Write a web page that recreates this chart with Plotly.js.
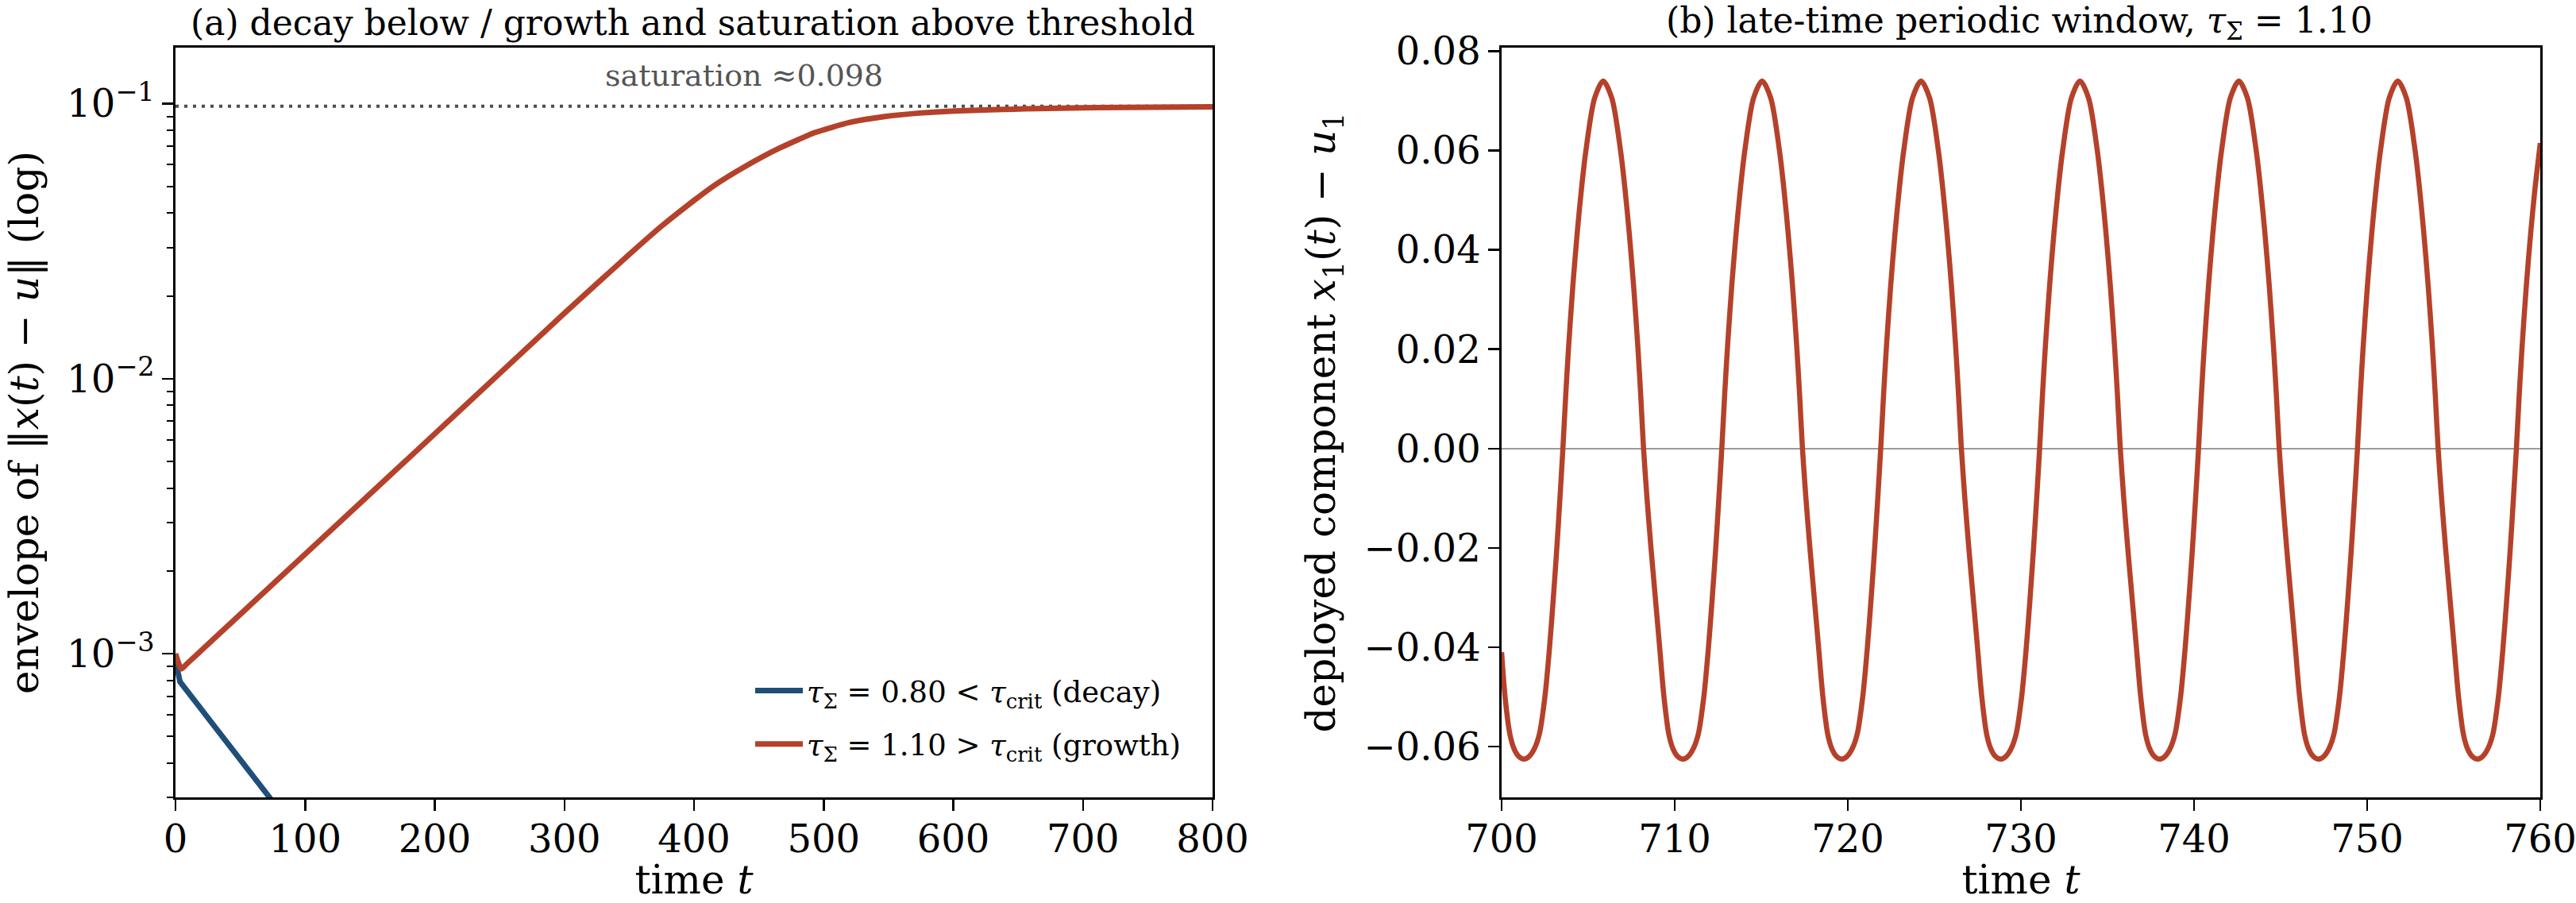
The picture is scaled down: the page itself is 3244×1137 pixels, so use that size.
<!DOCTYPE html>
<html>
<head>
<meta charset="utf-8">
<script src="https://cdn.plot.ly/plotly-3.0.1.min.js"></script>
<style>
  html, body { margin: 0; padding: 0; background: #ffffff; }
  #chart { width: 3244px; height: 1137px; }
</style>
</head>
<body>
<div id="chart"></div>
<script>
// ---------------- data ----------------
// Panel (a): envelope of ||x(t) - u|| (log scale)
const tDecay = [0, 3.5, 72.5, 100];
const envDecay = [0.00094, 0.00079, 0.00030, 0.000205];

const tGrowth = [0, 4.5, 9, 100, 200, 300, 350, 375, 400, 416, 439, 466, 493, 520, 547, 574, 601, 655, 709, 800];
const envGrowth = [0.00100, 0.00088, 0.00092, 0.0023, 0.0063, 0.0173, 0.0283, 0.0359, 0.0445, 0.0506, 0.0590,
                   0.0690, 0.0785, 0.0855, 0.0898, 0.0925, 0.0942, 0.0958, 0.0968, 0.0975];

const saturationLevel = 0.098;
const saturationSpan = [0, 800];

// Panel (b): late-time window of the deployed component x1(t) - u1, tau = 1.10
const tWindow = [
  700.00, 700.20, 700.48, 700.73, 701.00,
  701.28, 701.58, 701.88, 702.18, 702.50, 702.77, 702.99, 703.19, 703.37, 703.54, 703.70, 703.87, 704.12, 704.37, 704.62, 704.87, 705.37,
  705.87, 706.37, 706.87, 707.12, 707.37, 707.62, 707.87, 708.04, 708.20, 708.40, 708.63, 708.88, 709.13, 709.38, 709.66, 709.91, 710.18,
  710.46, 710.76, 711.06, 711.36, 711.68, 711.95, 712.17, 712.37, 712.55, 712.72, 712.88, 713.05, 713.30, 713.55, 713.80, 714.05, 714.55,
  715.05, 715.55, 716.05, 716.30, 716.55, 716.80, 717.05, 717.22, 717.38, 717.58, 717.81, 718.06, 718.31, 718.56, 718.84, 719.09, 719.36,
  719.64, 719.94, 720.24, 720.54, 720.86, 721.13, 721.35, 721.55, 721.73, 721.90, 722.06, 722.23, 722.48, 722.73, 722.98, 723.23, 723.73,
  724.23, 724.73, 725.23, 725.48, 725.73, 725.98, 726.23, 726.40, 726.56, 726.76, 726.99, 727.24, 727.49, 727.74, 728.02, 728.27, 728.54,
  728.82, 729.12, 729.42, 729.72, 730.04, 730.31, 730.53, 730.73, 730.91, 731.08, 731.24, 731.41, 731.66, 731.91, 732.16, 732.41, 732.91,
  733.41, 733.91, 734.41, 734.66, 734.91, 735.16, 735.41, 735.58, 735.74, 735.94, 736.17, 736.42, 736.67, 736.92, 737.20, 737.45, 737.72,
  738.00, 738.30, 738.60, 738.90, 739.22, 739.49, 739.71, 739.91, 740.09, 740.26, 740.42, 740.59, 740.84, 741.09, 741.34, 741.59, 742.09,
  742.59, 743.09, 743.59, 743.84, 744.09, 744.34, 744.59, 744.76, 744.92, 745.12, 745.35, 745.60, 745.85, 746.10, 746.38, 746.63, 746.90,
  747.18, 747.48, 747.78, 748.08, 748.40, 748.67, 748.89, 749.09, 749.27, 749.44, 749.60, 749.77, 750.02, 750.27, 750.52, 750.77, 751.27,
  751.77, 752.27, 752.77, 753.02, 753.27, 753.52, 753.77, 753.94, 754.10, 754.30, 754.53, 754.78, 755.03, 755.28, 755.56, 755.81, 756.08,
  756.36, 756.66, 756.96, 757.26, 757.58, 757.85, 758.07, 758.27, 758.45, 758.62, 758.78, 758.95, 759.20, 759.45, 759.70, 759.95, 760.00
];
const x1Window = [
  -0.041, -0.050, -0.0575, -0.0605, -0.062,
  -0.0625, -0.062, -0.0605, -0.0575, -0.050, -0.040, -0.030, -0.020, -0.010, 0.000, 0.0105, 0.0205, 0.033, 0.0435, 0.0525, 0.060, 0.0705,
  0.074, 0.0705, 0.060, 0.0525, 0.0435, 0.033, 0.0205, 0.0105, 0.000, -0.010, -0.020, -0.030, -0.040, -0.050, -0.0575, -0.0605, -0.062,
  -0.0625, -0.062, -0.0605, -0.0575, -0.050, -0.040, -0.030, -0.020, -0.010, 0.000, 0.0105, 0.0205, 0.033, 0.0435, 0.0525, 0.060, 0.0705,
  0.074, 0.0705, 0.060, 0.0525, 0.0435, 0.033, 0.0205, 0.0105, 0.000, -0.010, -0.020, -0.030, -0.040, -0.050, -0.0575, -0.0605, -0.062,
  -0.0625, -0.062, -0.0605, -0.0575, -0.050, -0.040, -0.030, -0.020, -0.010, 0.000, 0.0105, 0.0205, 0.033, 0.0435, 0.0525, 0.060, 0.0705,
  0.074, 0.0705, 0.060, 0.0525, 0.0435, 0.033, 0.0205, 0.0105, 0.000, -0.010, -0.020, -0.030, -0.040, -0.050, -0.0575, -0.0605, -0.062,
  -0.0625, -0.062, -0.0605, -0.0575, -0.050, -0.040, -0.030, -0.020, -0.010, 0.000, 0.0105, 0.0205, 0.033, 0.0435, 0.0525, 0.060, 0.0705,
  0.074, 0.0705, 0.060, 0.0525, 0.0435, 0.033, 0.0205, 0.0105, 0.000, -0.010, -0.020, -0.030, -0.040, -0.050, -0.0575, -0.0605, -0.062,
  -0.0625, -0.062, -0.0605, -0.0575, -0.050, -0.040, -0.030, -0.020, -0.010, 0.000, 0.0105, 0.0205, 0.033, 0.0435, 0.0525, 0.060, 0.0705,
  0.074, 0.0705, 0.060, 0.0525, 0.0435, 0.033, 0.0205, 0.0105, 0.000, -0.010, -0.020, -0.030, -0.040, -0.050, -0.0575, -0.0605, -0.062,
  -0.0625, -0.062, -0.0605, -0.0575, -0.050, -0.040, -0.030, -0.020, -0.010, 0.000, 0.0105, 0.0205, 0.033, 0.0435, 0.0525, 0.060, 0.0705,
  0.074, 0.0705, 0.060, 0.0525, 0.0435, 0.033, 0.0205, 0.0105, 0.000, -0.010, -0.020, -0.030, -0.040, -0.050, -0.0575, -0.0605, -0.062,
  -0.0625, -0.062, -0.0605, -0.0575, -0.050, -0.040, -0.030, -0.020, -0.010, 0.000, 0.0105, 0.0205, 0.033, 0.0435, 0.0525, 0.060, 0.0615
];

// tick labels
const logTickVals = [0.001, 0.01, 0.1];
const logTickText = ['10<sup>\u22123</sup>', '10<sup>\u22122</sup>', '10<sup>\u22121</sup>'];
const leftXTicks = [0, 100, 200, 300, 400, 500, 600, 700, 800];
const rightXTicks = [700, 710, 720, 730, 740, 750, 760];
const rightYTicks = [-0.06, -0.04, -0.02, 0.00, 0.02, 0.04, 0.06, 0.08];

// labels
const legendDecay = '<i>\u03c4</i><sub>\u03a3</sub> = 0.80 &lt; <i>\u03c4</i><sub>crit</sub> (decay)';
const legendGrowth = '<i>\u03c4</i><sub>\u03a3</sub> = 1.10 &gt; <i>\u03c4</i><sub>crit</sub> (growth)';
const titleA = '(a) decay below / growth and saturation above threshold';
const titleB = '(b) late-time periodic window, <i>\u03c4</i><sub>\u03a3</sub> = 1.10';
const satLabel = 'saturation \u22480.098';

// ---------------- styling ----------------
const FONT = 'DejaVu Serif, serif';
const RED = '#b5412b';
const BLUE = '#1f4e79';
const W = 3244, H = 1137;
const px = v => v / W;
const py = v => 1 - v / H;

const TICK_SIZE = 48;
const LABEL_SIZE = 50;

const axisCommon = {
  showline: true, mirror: true, linecolor: '#000', linewidth: 2.7,
  ticks: 'outside', ticklen: 14, tickwidth: 2.5, tickcolor: '#000',
  showgrid: false, zeroline: false,
  tickfont: { family: FONT, size: TICK_SIZE, color: '#000' },
  ticklabeloverflow: 'allow',
  automargin: false
};

const traces = [
  { x: saturationSpan, y: [saturationLevel, saturationLevel], xaxis: 'x', yaxis: 'y', mode: 'lines',
    line: { color: '#4d4d4d', width: 4, dash: '4px,7px' }, showlegend: false, hoverinfo: 'skip' },
  { x: tDecay, y: envDecay, xaxis: 'x', yaxis: 'y', mode: 'lines', name: legendDecay, legendgroup: 'g1',
    line: { color: BLUE, width: 7 } },
  { x: tGrowth, y: envGrowth, xaxis: 'x', yaxis: 'y', mode: 'lines', name: legendGrowth, legendgroup: 'g2',
    line: { color: RED, width: 7, shape: 'spline', smoothing: 0.5 } },
  { x: tWindow, y: x1Window, xaxis: 'x2', yaxis: 'y2', mode: 'lines', showlegend: false,
    line: { color: RED, width: 6.5, shape: 'spline', smoothing: 0.8 } }
];

const layout = {
  width: W, height: H,
  margin: { l: 0, r: 0, t: 0, b: 0, pad: 0 },
  paper_bgcolor: '#ffffff', plot_bgcolor: '#ffffff',
  font: { family: FONT, size: TICK_SIZE, color: '#000' },
  showlegend: true,
  legend: {
    x: px(946), y: py(839), xanchor: 'left', yanchor: 'top',
    bgcolor: 'rgba(0,0,0,0)', borderwidth: 0,
    font: { family: FONT, size: 37, color: '#000' },
    itemwidth: 60, tracegroupgap: 16
  },
  xaxis: Object.assign({}, axisCommon, {
    domain: [px(221), px(1527)], range: [0, 800], anchor: 'y',
    tickvals: leftXTicks, ticklabelstandoff: -5,
    title: { text: 'time <i>t</i>', font: { family: FONT, size: LABEL_SIZE }, standoff: 40 }
  }),
  yaxis: Object.assign({}, axisCommon, {
    domain: [py(1004), py(60)], type: 'log', anchor: 'x',
    range: [Math.log10(0.0003), Math.log10(0.16)],
    tickvals: logTickVals, ticktext: logTickText,
    minor: { dtick: 'D1', ticks: 'outside', ticklen: 8, tickwidth: 2, tickcolor: '#000', showgrid: false },
    title: { text: 'envelope of \u2016<i>x</i>(<i>t</i>) \u2212 <i>u</i>\u2016 (log)', font: { family: FONT, size: LABEL_SIZE }, standoff: 20 }
  }),
  xaxis2: Object.assign({}, axisCommon, {
    domain: [px(1891), px(3199)], range: [700, 760], anchor: 'y2',
    tickvals: rightXTicks, ticklabelstandoff: -5,
    title: { text: 'time <i>t</i>', font: { family: FONT, size: LABEL_SIZE }, standoff: 40 }
  }),
  yaxis2: Object.assign({}, axisCommon, {
    domain: [py(1004), py(60)], range: [-0.0702, 0.0807], anchor: 'x2',
    tickvals: rightYTicks, tickformat: '.2f',
    zeroline: true, zerolinecolor: '#9a9a9a', zerolinewidth: 2.5,
    title: { text: 'deployed component <i>x</i><sub>1</sub>(<i>t</i>) \u2212 <i>u</i><sub>1</sub>', font: { family: FONT, size: LABEL_SIZE }, standoff: 20 }
  }),
  annotations: [
    { text: titleA, xref: 'paper', yref: 'paper', x: px(872), y: py(28), xanchor: 'center', yanchor: 'middle',
      showarrow: false, font: { family: FONT, size: 44, color: '#000' } },
    { text: titleB, xref: 'paper', yref: 'paper', x: px(2543), y: py(28), xanchor: 'center', yanchor: 'middle',
      showarrow: false, font: { family: FONT, size: 44, color: '#000' } },
    { text: satLabel, xref: 'paper', yref: 'paper', x: px(937), y: py(95), xanchor: 'center', yanchor: 'middle',
      showarrow: false, font: { family: FONT, size: 38, color: '#555555' } }
  ]
};

Plotly.newPlot('chart', traces, layout, { displayModeBar: false, staticPlot: true });
</script>
</body>
</html>
